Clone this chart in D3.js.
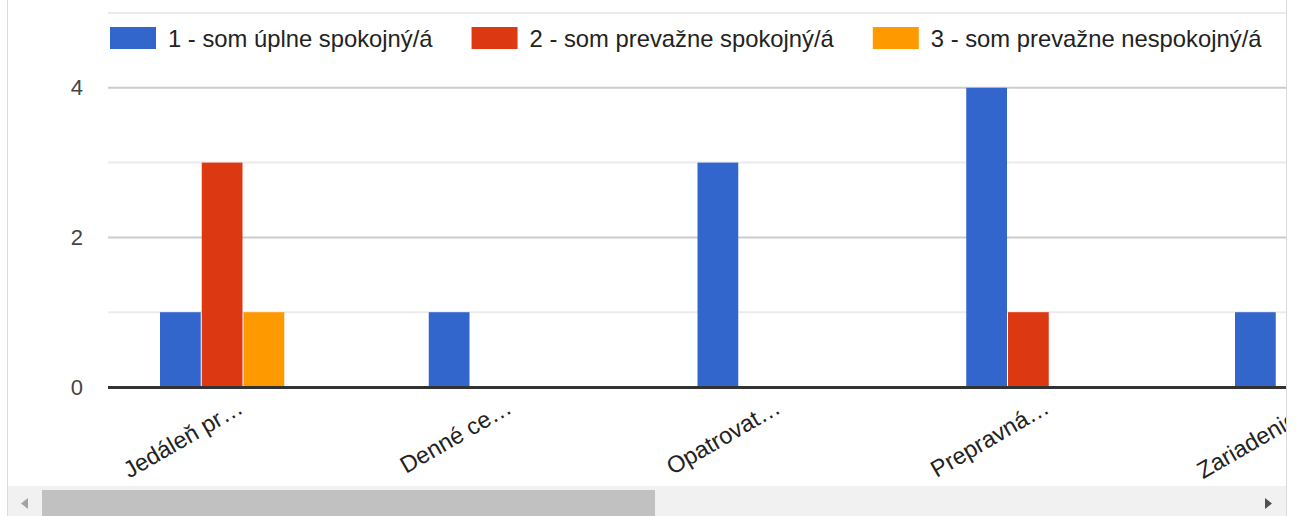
<!DOCTYPE html>
<html>
<head>
<meta charset="utf-8">
<script src="https://cdn.jsdelivr.net/npm/d3@7"></script>
<style>
  html, body { margin: 0; padding: 0; background: #fff; }
  svg { display: block; font-family: Arial, "Liberation Sans", sans-serif; }
</style>
</head>
<body>
<svg id="chart" width="1298" height="516"></svg>
<script>
// ---------- DATA ----------
const categories = ["Jedáleň pr…", "Denné ce…", "Opatrovat…", "Prepravná…", "Zariadenie…"];
const seriesNames = ["1 - som úplne spokojný/á", "2 - som prevažne spokojný/á", "3 - som prevažne nespokojný/á"];
const seriesColors = ["#3366cc", "#dc3912", "#ff9900"];
const values1 = [1, 1, 3, 4, 1];
const values2 = [3, 0, 0, 1, 0];
const values3 = [1, 0, 0, 0, 0];
const yTicks = [0, 2, 4];
const yGrid = [1, 3, 5];

// ---------- LAYOUT ----------
const W = 1298, H = 516;
const plotLeft = 108, plotRight = 1286;
const step = 268.75;          // one category
const groupW = 125.25;        // three bars
const groupStart = 160;
const FONT = "Arial, 'Liberation Sans', sans-serif";

const svg = d3.select("#chart");

// frame lines of the scroll container
svg.append("line").attr("x1", 7.5).attr("x2", 7.5).attr("y1", 0).attr("y2", H)
  .attr("stroke", "#dadada").attr("stroke-width", 1);
svg.append("line").attr("x1", 1286.5).attr("x2", 1286.5).attr("y1", 0).attr("y2", H)
  .attr("stroke", "#dadada").attr("stroke-width", 1);

// ---------- SCALES ----------
const y = d3.scaleLinear().domain([0, 5]).range([387, 13]);
const bandStart = groupStart - (step - groupW) / 2;
const x0 = d3.scaleBand().domain(categories)
  .range([bandStart, bandStart + step * categories.length]);
const x1 = d3.scaleBand().domain(seriesNames)
  .range([(step - groupW) / 2, (step + groupW) / 2]);

svg.append("defs").append("clipPath").attr("id", "plotClip")
  .append("rect").attr("x", 8).attr("y", 0).attr("width", plotRight - 8).attr("height", 486);

// ---------- GRID ----------
const grid = svg.append("g");
grid.selectAll("line.minor").data(yGrid).join("line")
  .attr("x1", plotLeft).attr("x2", plotRight)
  .attr("y1", d => y(d)).attr("y2", d => y(d))
  .attr("stroke", "#ebebeb").attr("stroke-width", 2);
grid.selectAll("line.major").data(yTicks.filter(d => d !== 0)).join("line")
  .attr("x1", plotLeft).attr("x2", plotRight)
  .attr("y1", d => y(d)).attr("y2", d => y(d))
  .attr("stroke", "#cccccc").attr("stroke-width", 2);

// y labels via axis
const yAxis = svg.append("g").attr("transform", `translate(${plotLeft},0)`)
  .call(d3.axisLeft(y).tickValues(yTicks).tickFormat(d3.format("d")).tickSize(0).tickPadding(25));
yAxis.select(".domain").remove();
yAxis.attr("font-family", FONT).attr("font-size", 22);
yAxis.selectAll("text").attr("fill", "#444");

// ---------- BARS ----------
const rows = categories.map((c, i) => ({
  cat: c,
  vals: [values1[i], values2[i], values3[i]]
}));
const plot = svg.append("g").attr("clip-path", "url(#plotClip)");
plot.selectAll("g.cat").data(rows).join("g")
  .attr("transform", d => `translate(${x0(d.cat)},0)`)
  .selectAll("rect").data(d => d.vals.map((v, j) => ({ v, j })).filter(e => e.v > 0))
  .join("rect")
  .attr("x", e => x1(seriesNames[e.j]))
  .attr("width", x1.bandwidth() - 1)
  .attr("y", e => y(e.v))
  .attr("height", e => y(0) - y(e.v))
  .attr("fill", e => seriesColors[e.j]);

// baseline
svg.append("line").attr("x1", plotLeft).attr("x2", plotRight)
  .attr("y1", y(0) + 0.5).attr("y2", y(0) + 0.5)
  .attr("stroke", "#333").attr("stroke-width", 3);

// x labels, slanted
plot.selectAll("text.xl").data(categories).join("text")
  .attr("class", "xl")
  .attr("transform", d => `translate(${x0(d) + step / 2 + 22},412) rotate(-30)`)
  .attr("text-anchor", "end")
  .attr("font-size", 23.5)
  .attr("fill", "#222")
  .text(d => d);

// ---------- LEGEND ----------
const legend = svg.append("g").attr("transform", "translate(110,27)");
let lx = 0;
seriesNames.forEach((name, j) => {
  const g = legend.append("g").attr("transform", `translate(${lx},0)`);
  g.append("rect").attr("width", 46).attr("height", 22).attr("fill", seriesColors[j]);
  const t = g.append("text").attr("x", 58).attr("y", 20)
    .attr("font-size", 23.8).attr("fill", "#222").text(name);
  lx += 58 + t.node().getComputedTextLength() + 39;
});

// ---------- SCROLLBAR ----------
const sb = svg.append("g");
sb.append("rect").attr("x", 8).attr("y", 486).attr("width", plotRight - 8).attr("height", 30)
  .attr("fill", "#f1f1f1");
sb.append("rect").attr("x", 42).attr("y", 490).attr("width", 613).attr("height", 26)
  .attr("fill", "#c1c1c1");
sb.append("path").attr("d", "M21,503.5 L28,498 L28,509 Z").attr("fill", "#a3a3a3");
sb.append("path").attr("d", "M1272,503.5 L1265,498 L1265,509 Z").attr("fill", "#505050");
</script>
</body>
</html>
